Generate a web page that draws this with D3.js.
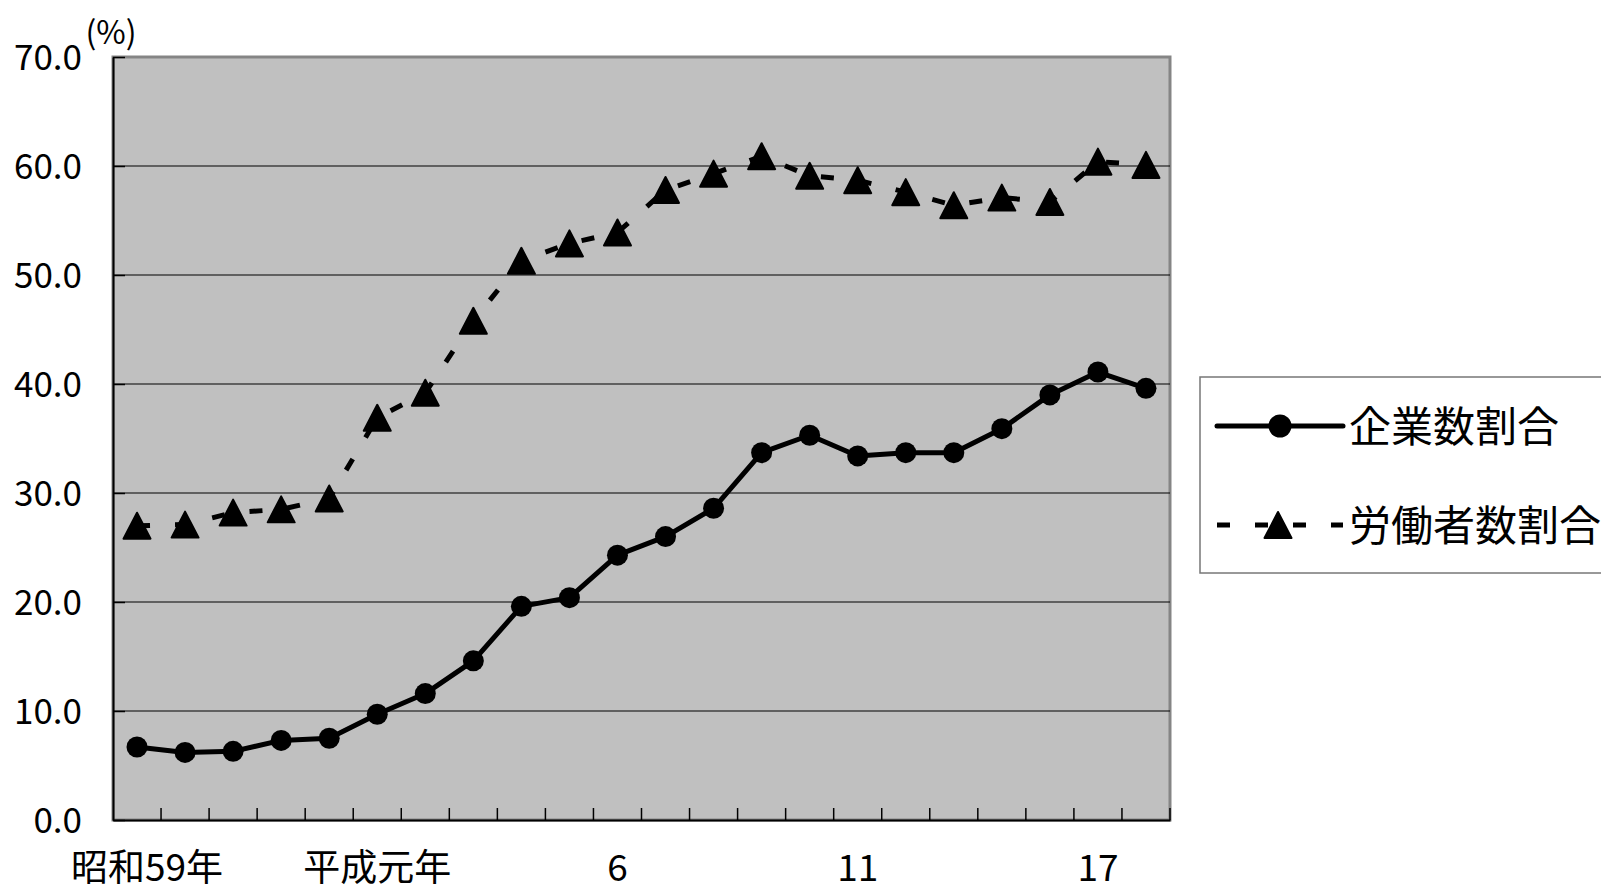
<!DOCTYPE html>
<html>
<head>
<meta charset="utf-8">
<script src="https://cdn.jsdelivr.net/npm/d3@7"></script>
<style>
  html, body { margin: 0; padding: 0; background: #ffffff; }
  svg { display: block; }
  text { font-family: "Noto Sans CJK JP", "Noto Sans", sans-serif; fill: #000; }
</style>
</head>
<body>
<svg id="chart" width="1601" height="891"></svg>
<script>
// ---- data ----
const categories = ["昭和59年","60","61","62","63","平成元年","2","3","4","5","6","7","8","9","10","11","12","13","14","16","17","18"];
const tickLabels = {"昭和59年":"昭和59年","平成元年":"平成元年","6":"6","11":"11","17":"17"};
const seriesNames = ["企業数割合", "労働者数割合"];
const companyShare = [6.7, 6.2, 6.3, 7.3, 7.5, 9.7, 11.6, 14.6, 19.6, 20.4, 24.3, 26.0, 28.6, 33.7, 35.3, 33.4, 33.7, 33.7, 35.9, 39.0, 41.1, 39.6];
const workerShare  = [27.0, 27.1, 28.2, 28.5, 29.5, 36.9, 39.2, 45.8, 51.3, 52.9, 53.9, 57.8, 59.3, 60.9, 59.1, 58.7, 57.6, 56.4, 57.1, 56.7, 60.4, 60.1];
const yTicks = [0, 10, 20, 30, 40, 50, 60, 70];

// ---- layout ----
const plot = { left: 113, right: 1170, top: 57, bottom: 820 };
const svg = d3.select("#chart");

const x = d3.scaleBand().domain(categories).range([plot.left, plot.right]).padding(0);
const y = d3.scaleLinear().domain([0, 70]).range([plot.bottom, plot.top]);
const cx = d => x(d) + x.bandwidth() / 2;

// plot background
svg.append("rect")
  .attr("x", plot.left).attr("y", y(70))
  .attr("width", plot.right - plot.left).attr("height", y(0) - y(70))
  .attr("fill", "#c0c0c0").attr("stroke", "#858585").attr("stroke-width", 3);

// gridlines
svg.append("g").selectAll("line").data(yTicks.filter(v => v > 0 && v < 70)).join("line")
  .attr("x1", plot.left).attr("x2", plot.right)
  .attr("y1", d => y(d)).attr("y2", d => y(d))
  .attr("stroke", "#000").attr("stroke-width", 1.2);

// y axis
const yAxis = d3.axisLeft(y).tickValues(yTicks).tickFormat(d3.format(".1f")).tickSizeInner(-12).tickSizeOuter(0).tickPadding(31);
const gy = svg.append("g").attr("transform", `translate(${plot.left},0)`).call(yAxis);
gy.select(".domain").attr("stroke", "#000").attr("stroke-width", 2);
gy.selectAll(".tick line").attr("stroke", "#000").attr("stroke-width", 1.5);
gy.selectAll(".tick text").attr("font-size", 35).attr("font-family", "'Noto Sans CJK JP'").attr("dy", "0.36em").attr("fill", "#000");

// x axis
const xAxis = d3.axisBottom(x).tickSizeInner(0).tickSizeOuter(0).tickPadding(0)
  .tickFormat(d => tickLabels[d] || "");
const gx = svg.append("g").attr("transform", `translate(0,${plot.bottom})`).call(xAxis);
gx.select(".domain").attr("stroke", "#000").attr("stroke-width", 2);
gx.selectAll(".tick text").attr("font-size", 37).attr("font-family", "'Noto Sans CJK JP'")
  .attr("y", 61).attr("dy", 0).attr("fill", "#000");
// clamp first label inside chart
gx.selectAll(".tick text").each(function() {
  const bb = this.getBBox();
  const tr = this.parentNode.transform.baseVal.consolidate();
  const left = bb.x + (tr ? tr.matrix.e : 0);
  if (this.textContent && left < 71) d3.select(this).attr("x", 71 - left);
});
// category boundary ticks (pointing up, inside)
svg.append("g").selectAll("line").data(categories.slice(1).concat(["__end"])).join("line")
  .attr("x1", d => d === "__end" ? plot.right : x(d))
  .attr("x2", d => d === "__end" ? plot.right : x(d))
  .attr("y1", plot.bottom).attr("y2", plot.bottom - 12)
  .attr("stroke", "#000").attr("stroke-width", 1.5);

// unit label
svg.append("text").attr("x", 111).attr("y", 44).attr("text-anchor", "middle")
  .attr("font-size", 32).text("(%)");

// ---- series ----
const line = d3.line().x((d, i) => cx(categories[i])).y(d => y(d));
const triPath = "M0,-13L13.5,13L-13.5,13Z";

svg.append("path").datum(companyShare).attr("d", line)
  .attr("fill", "none").attr("stroke", "#000").attr("stroke-width", 5).attr("stroke-linejoin", "round");
svg.append("g").selectAll("circle").data(companyShare).join("circle")
  .attr("cx", (d, i) => cx(categories[i])).attr("cy", d => y(d)).attr("r", 10.5).attr("fill", "#000");

svg.append("path").datum(workerShare).attr("d", line)
  .attr("fill", "none").attr("stroke", "#000").attr("stroke-width", 5)
  .attr("stroke-dasharray", "13,25").attr("stroke-linecap", "butt");
svg.append("g").selectAll("path").data(workerShare).join("path")
  .attr("d", triPath)
  .attr("transform", (d, i) => `translate(${cx(categories[i])},${y(d)})`)
  .attr("fill", "#000").attr("stroke", "#000").attr("stroke-width", 2).attr("stroke-linejoin", "round");

// ---- legend ----
const lg = svg.append("g");
lg.append("rect").attr("x", 1200).attr("y", 377).attr("width", 460).attr("height", 196)
  .attr("fill", "#fff").attr("stroke", "#777").attr("stroke-width", 1.5);
const rows = [
  { name: seriesNames[0], y: 426, dash: null, marker: "circle" },
  { name: seriesNames[1], y: 525, dash: "13,25", marker: "tri" }
];
rows.forEach(r => {
  const l = lg.append("line").attr("x1", 1217).attr("x2", 1343).attr("y1", r.y).attr("y2", r.y)
    .attr("stroke", "#000").attr("stroke-width", 5);
  if (r.dash) l.attr("stroke-dasharray", r.dash);
  else l.attr("stroke-linecap", "round");
  if (r.marker === "circle") {
    lg.append("circle").attr("cx", 1280).attr("cy", r.y).attr("r", 11.5).attr("fill", "#000");
  } else {
    lg.append("path").attr("d", triPath).attr("transform", `translate(1278,${r.y})`)
      .attr("fill", "#000").attr("stroke", "#000").attr("stroke-width", 2).attr("stroke-linejoin", "round");
  }
  lg.append("text").attr("x", 1349).attr("y", r.y + 16).attr("font-size", 42).text(r.name);
});
</script>
</body>
</html>
